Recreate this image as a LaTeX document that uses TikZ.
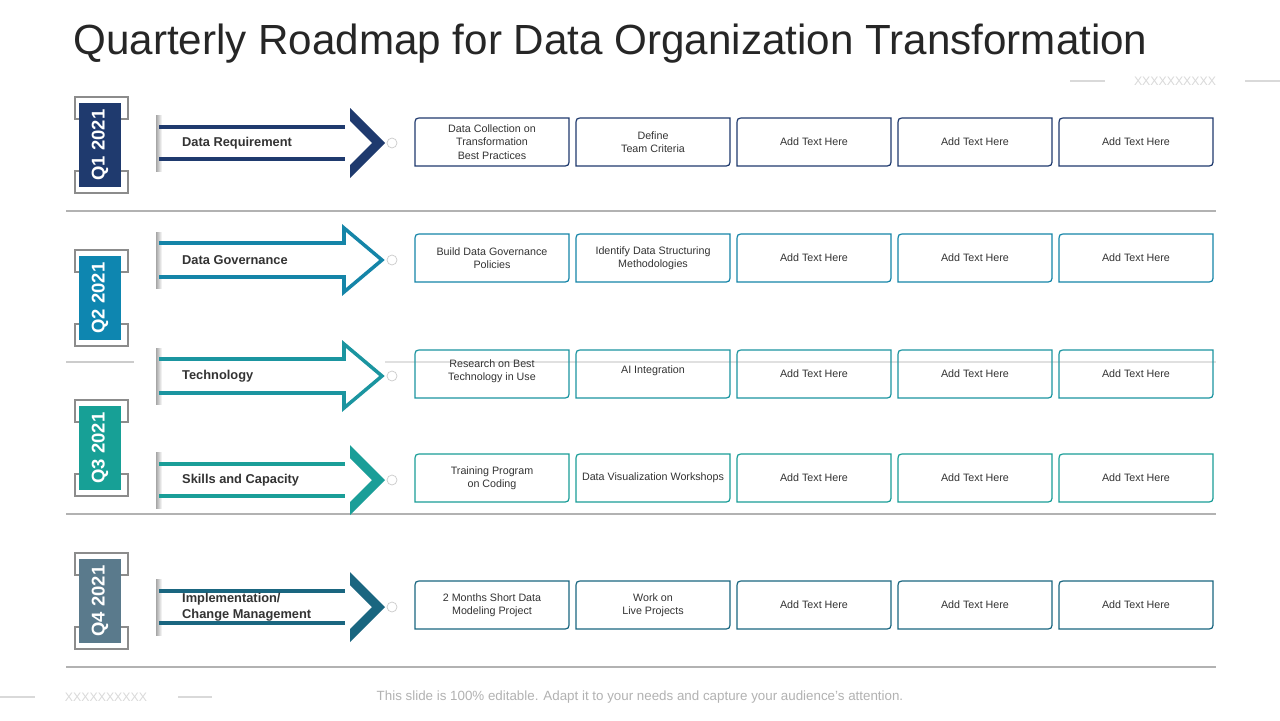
\documentclass[tikz,border=0pt]{standalone}
\usepackage{fontspec}
\setmainfont{Liberation Sans}
\begin{document}
\begin{tikzpicture}[x=0.02cm,y=-0.02cm,
  qlab/.style={fill=#1,text=white,font=\bfseries\fontsize{10.5}{11}\selectfont,rotate=90,minimum width=84*0.02cm,minimum height=42*0.02cm,inner sep=0},
  brk/.style={draw=black!45,line width=0.6pt},
  sep/.style={draw=black!30,line width=0.6pt},
  lbl/.style={anchor=west,font=\bfseries\fontsize{7.3}{8.8}\selectfont,text=black!80,align=left},
  dot/.style={circle,draw=black!20,fill=white,minimum size=10*0.02cm,inner sep=0}]
\useasboundingbox (0,0) rectangle (1280,720);
\fill[white] (0,0) rectangle (1280,720);
\node[anchor=west,font=\fontsize{24}{26}\selectfont,text=black!85,inner sep=0] (title) at (73,44) {Quarterly Roadmap for Data Organization Transformation};
\draw[sep,black!15] (1070,81) -- (1105,81) (1245,81) -- (1280,81);
\node[text=black!15,font=\fontsize{7}{7}\selectfont] (x1) at (1175,81) {XXXXXXXXXX};
\draw[sep,black!15] (0,697) -- (35,697) (178,697) -- (212,697);
\node[text=black!15,font=\fontsize{7}{7}\selectfont] (x2) at (106,697) {XXXXXXXXXX};
\node[text=black!30,font=\fontsize{7.6}{8}\selectfont] (foot) at (640,697) {This slide is 100\% editable. Adapt it to your needs and capture your audience’s attention.};
% separators
\draw[sep] (66,211) -- (1216,211);
\draw[sep] (66,514) -- (1216,514);
\draw[sep] (66,667) -- (1216,667);
\draw[sep,black!20] (66,362) -- (134,362);
\draw[sep,black!12] (385,362) -- (1216,362);
% quarter labels
\definecolor{qa}{HTML}{1F3A6E}\definecolor{qb}{HTML}{0E86B0}
\definecolor{qc}{HTML}{17A096}\definecolor{qd}{HTML}{5A7A8C}
\definecolor{ra}{HTML}{1F3A6E}\definecolor{rb}{HTML}{1585A8}
\definecolor{rc}{HTML}{1B95A0}\definecolor{rd}{HTML}{1A9E98}\definecolor{re}{HTML}{1A6680}
\foreach \n/\yc/\c/\t in {1/145/qa/Q1 2021,2/298/qb/Q2 2021,3/448/qc/Q3 2021,4/601/qd/Q4 2021}{
  \draw[brk] (75,\yc-48) rectangle (128,\yc-26);
  \draw[brk] (75,\yc+26) rectangle (128,\yc+48);
  \node[qlab=\c] (q\n) at (100,\yc) {\t};
}
% shadows
\foreach \yc in {143,260,376,480,607}{
  \shade[left color=black!35,right color=white] (156,\yc-28) rectangle (162,\yc+28);
}
% chevrons
\foreach \n/\yc/\c/\t in {1/143/ra/Data Requirement,4/480/rd/Skills and Capacity,5/607/re/{Implementation/\\Change Management}}{
  \draw[\c,line width=2pt] (159,\yc-16) -- (345,\yc-16) (159,\yc+16) -- (345,\yc+16);
  \fill[\c] (350,\yc-35) -- (385,\yc) -- (350,\yc+35) -- (350,\yc+22) -- (372,\yc) -- (350,\yc-22) -- cycle;
  \node[lbl] (l\n) at (176,\yc) {\t};
  \node[dot] (d\n) at (392,\yc) {};
}
\foreach \n/\yc/\c/\t in {2/260/rb/Data Governance,3/376/rc/Technology}{
  \draw[\c,line width=2pt,line join=miter] (159,\yc-17) -- (344,\yc-17) -- (344,\yc-32) -- (382,\yc) -- (344,\yc+32) -- (344,\yc+17) -- (159,\yc+17);
  \node[lbl] (l\n) at (176,\yc) {\t};
  \node[dot] (d\n) at (392,\yc) {};
}
% boxes
\foreach \r/\yc/\c in {1/142/ra,2/258/rb,3/374/rc,4/478/rd,5/605/re}{
  \foreach \k/\xl in {1/415,2/576,3/737,4/898,5/1059}{
    \draw[\c,line width=0.7pt] (\xl+8,\yc-24) -- (\xl+154,\yc-24) -- (\xl+154,\yc+16) .. controls (\xl+154,\yc+24) .. (\xl+146,\yc+24) -- (\xl,\yc+24) -- (\xl,\yc-16) .. controls (\xl,\yc-24) .. (\xl+8,\yc-24);
    \coordinate (b\r\k) at (\xl+77,\yc);
  }
}
\tikzset{tx/.style={align=center,font=\fontsize{6.1}{7.5}\selectfont,text=black!80}}
\node[tx] at (b11) {Data Collection on\\Transformation\\Best Practices};
\node[tx] at (b12) {Define\\Team Criteria};
\node[tx] at (b21) {Build Data Governance\\Policies};
\node[tx] at (b22) {Identify Data Structuring\\Methodologies};
\node[tx] at ([yshift=0.06cm]b31) {Research on Best\\Technology in Use};
\node[tx] at ([yshift=0.06cm]b32) {AI Integration};
\node[tx] at (b41) {Training Program\\on Coding};
\node[tx] at (b42) {Data Visualization Workshops};
\node[tx] at (b51) {2 Months Short Data\\Modeling Project};
\node[tx] at (b52) {Work on\\Live Projects};
\foreach \r in {1,...,5}{\foreach \k in {3,4,5}{\node[tx] at (b\r\k) {Add Text Here};}}
\end{tikzpicture}
\end{document}
